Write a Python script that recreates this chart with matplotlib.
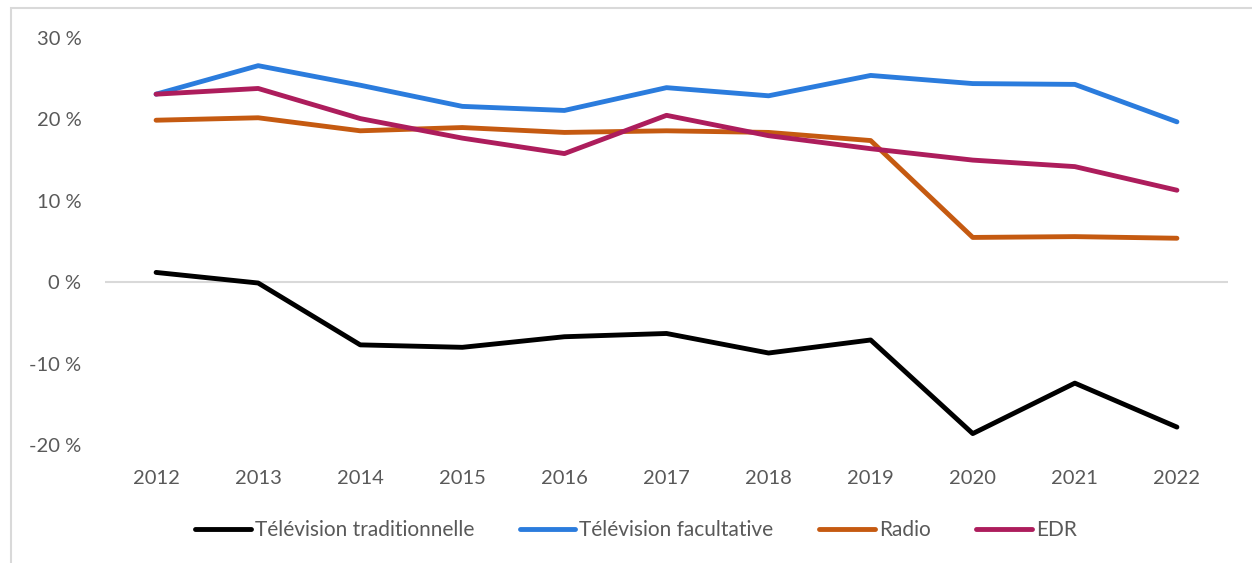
import matplotlib
matplotlib.use("Agg")
import matplotlib.pyplot as plt
from matplotlib.patches import Rectangle
from matplotlib.ticker import FuncFormatter

years = ["2012", "2013", "2014", "2015", "2016", "2017", "2018", "2019", "2020", "2021", "2022"]
tv_trad = [1.2, -0.1, -7.7, -8.0, -6.7, -6.3, -8.7, -7.1, -18.6, -12.4, -17.8]
tv_fac = [23.1, 26.6, 24.2, 21.6, 21.1, 23.9, 22.9, 25.4, 24.4, 24.3, 19.7]
radio = [19.9, 20.2, 18.6, 19.0, 18.4, 18.6, 18.4, 17.4, 5.5, 5.6, 5.4]
edr = [23.1, 23.8, 20.1, 17.7, 15.8, 20.5, 18.0, 16.4, 15.0, 14.2, 11.3]

series = [
    ("Télévision traditionnelle", tv_trad, "#000000"),
    ("Télévision facultative", tv_fac, "#2B7CDD"),
    ("Radio", radio, "#C55A11"),
    ("EDR", edr, "#AD1D5C"),
]

plt.rcParams["font.family"] = ["Lato", "DejaVu Sans"]
txt = "#595959"

fig = plt.figure(figsize=(12.52, 5.63), dpi=100)
ax = fig.add_axes([0.0839, 0.2096, 0.8969, 0.7229])

# cadre du graphique
fig.patches.append(Rectangle((11 / 1252, -0.1), 1.2, 1 - 8 / 563 + 0.1,
                             transform=fig.transFigure, fill=False,
                             edgecolor="#d9d9d9", linewidth=1.5))

x = range(len(years))
for name, vals, col in series:
    ax.plot(x, vals, color=col, linewidth=3.5, solid_capstyle="round",
            solid_joinstyle="round", label=name, zorder=3)

ax.axhline(0, color="#d9d9d9", linewidth=1.5, zorder=1)
ax.set_xlim(-0.5, len(years) - 0.5)
ax.set_ylim(-20, 30)
ax.set_yticks([-20, -10, 0, 10, 20, 30])
ax.yaxis.set_major_formatter(FuncFormatter(lambda v, p: f"{v:.0f} %"))
ax.set_xticks(list(x))
ax.set_xticklabels(years)
ax.tick_params(axis="both", length=0, labelsize=14.5, colors=txt)
ax.tick_params(axis="y", pad=17)
ax.tick_params(axis="x", pad=18)
for s in ax.spines.values():
    s.set_visible(False)

leg = fig.legend(loc="center", bbox_to_anchor=(0.508, 1 - 530 / 563), ncol=4,
                 frameon=False, fontsize=15, handlelength=2.65,
                 handletextpad=0.2, columnspacing=2.2)
for t in leg.get_texts():
    t.set_color(txt)

fig.savefig("out.png", dpi=100)
